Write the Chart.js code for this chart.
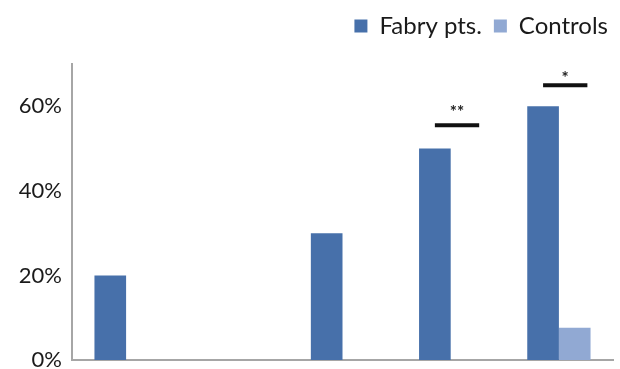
<!DOCTYPE html>
<html>
<head>
<meta charset="utf-8">
<script src="https://cdn.jsdelivr.net/npm/chart.js@4/dist/chart.umd.min.js"></script>
<style>
  html, body { margin: 0; padding: 0; background: #ffffff; }
  #wrap { width: 620px; height: 369px; position: relative; }
</style>
</head>
<body>
<div id="wrap"><canvas id="chart"></canvas></div>
<script>
// Percentages per group
const categories = ['A', 'B', 'C', 'D', 'E'];
const fabryValues = [20, 0, 30, 50, 60];
const controlValues = [0, 0, 0, 0, 7.6];
const seriesNames = ['Fabry pts.', 'Controls'];
const yTicks = [0, 20, 40, 60];

// Significance brackets: category index, bar level (%), star level (%), label
const sigIndex = [3, 4];
const sigLineLevel = [55.5, 65];
const sigStarLevel = [59.5, 67.5];
const sigLabel = ['**', '*'];

const fabryColor = '#4770aa';
const controlColor = '#91a9d3';

const significancePlugin = {
  id: 'significance',
  afterDatasetsDraw(chart) {
    const { ctx, scales: { x, y } } = chart;
    const barW = chart.getDatasetMeta(0).data[0].width;
    ctx.save();
    sigIndex.forEach((idx, i) => {
      const cx = x.getPixelForValue(idx) + barW * 0.2;
      const half = barW * 0.7;
      const ly = y.getPixelForValue(sigLineLevel[i]);
      ctx.strokeStyle = '#111111';
      ctx.lineWidth = 4;
      ctx.beginPath();
      ctx.moveTo(cx - half, ly);
      ctx.lineTo(cx + half, ly);
      ctx.stroke();
      ctx.fillStyle = '#222222';
      ctx.font = 'bold 17px Lato, sans-serif';
      ctx.textAlign = 'center';
      ctx.textBaseline = 'middle';
      ctx.fillText(sigLabel[i], cx, y.getPixelForValue(sigStarLevel[i]) + 4);
    });
    ctx.restore();
  }
};

// Legend row: extra gap below it, and pushed a little further right
const legendTweakPlugin = {
  id: 'legendTweak',
  afterInit(chart) {
    const legend = chart.legend;
    if (!legend) return;
    const fit = legend.fit;
    legend.fit = function () {
      fit.call(this);
      this.height += 16;
    };
    const draw = legend.draw;
    legend.draw = function () {
      const r = this.right, w = this.width;
      this.right = r + 7;
      this.width = w + 7;
      draw.call(this);
      this.right = r;
      this.width = w;
    };
  }
};

new Chart(document.getElementById('chart'), {
  type: 'bar',
  data: {
    labels: categories,
    datasets: [
      { label: seriesNames[0], data: fabryValues, backgroundColor: fabryColor },
      { label: seriesNames[1], data: controlValues, backgroundColor: controlColor }
    ]
  },
  options: {
    responsive: true,
    maintainAspectRatio: false,
    animation: false,
    layout: { padding: { top: 2, right: 7, bottom: 9, left: 0 } },
    datasets: { bar: { categoryPercentage: 0.585, barPercentage: 1.0 } },
    plugins: {
      tooltip: { enabled: false },
      legend: {
        position: 'top',
        align: 'end',
        labels: {
          color: '#1a1a1a',
          font: { family: 'Lato, sans-serif', size: 24 },
          boxWidth: 13,
          boxHeight: 13,
          padding: 12,
          useBorderRadius: false
        }
      }
    },
    scales: {
      x: {
        afterFit(scale) { scale.height = 0; },
        grid: { display: false, drawTicks: false },
        border: { display: true, color: '#a6a6a6', width: 2 },
        ticks: { display: false, padding: 0 }
      },
      y: {
        min: 0,
        max: 70,
        afterBuildTicks(scale) {
          scale.ticks = yTicks.map(v => ({ value: v }));
        },
        afterFit(scale) {
          scale.width = 72;
          scale.paddingTop = 0;
          scale.paddingBottom = 0;
        },
        grid: { display: false, drawTicks: false },
        border: { display: true, color: '#a6a6a6', width: 2 },
        ticks: {
          color: '#1a1a1a',
          padding: 10,
          font: { family: 'Lato, sans-serif', size: 22 },
          callback: v => v + '%'
        }
      }
    }
  },
  plugins: [legendTweakPlugin, significancePlugin]
});
</script>
</body>
</html>
